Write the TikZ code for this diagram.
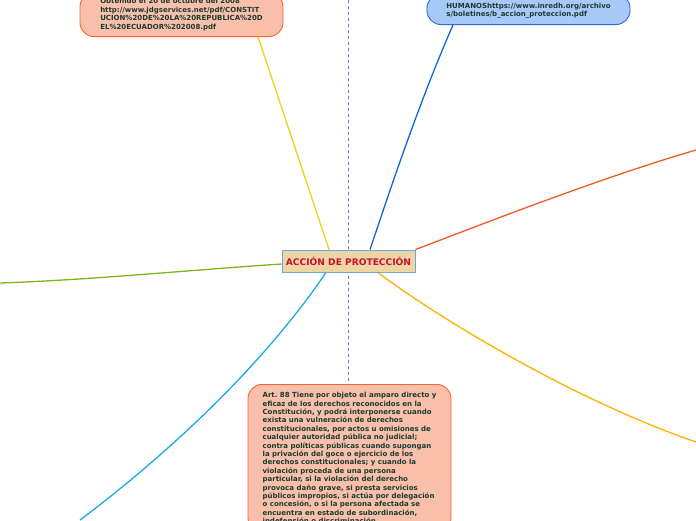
\documentclass[tikz,border=0pt]{standalone}
\usepackage{fontspec}
\setmainfont{DejaVu Sans}
\usetikzlibrary{positioning,shadows,backgrounds}
\definecolor{notefill}{HTML}{F9BFAB}
\definecolor{notedraw}{HTML}{F26535}
\definecolor{webfill}{HTML}{A8C8F8}
\definecolor{webdraw}{HTML}{2A6ED8}
\definecolor{notetext}{HTML}{173D2E}
\definecolor{mainfill}{HTML}{EED5A6}
\definecolor{maindraw}{HTML}{6FA9D2}
\definecolor{maintext}{HTML}{C8102E}
\definecolor{axis}{HTML}{5B7BF0}
\tikzset{
  note/.style={
    rectangle,
    rounded corners=14pt,
    draw=notedraw,
    fill=notefill,
    line width=0.9pt,
    text=notetext,
    font=\bfseries\fontsize{7}{8.4}\selectfont,
    align=left,
    minimum width=203pt,
    inner xsep=14pt,
    inner ysep=7pt
  },
  webnote/.style={note, draw=webdraw, fill=webfill},
  central/.style={
    rectangle,
    draw=maindraw,
    fill=mainfill,
    line width=0.9pt,
    text=maintext,
    font=\bfseries\fontsize{9.1}{10}\selectfont,
    minimum width=133pt,
    minimum height=22pt,
    inner sep=2pt,
    drop shadow={shadow xshift=1pt,shadow yshift=-1pt,fill=maindraw!60}
  },
  branch/.style={line width=1.3pt}
}

\begin{document}
\begin{tikzpicture}[x=1pt,y=-1pt]
\useasboundingbox (0,0) rectangle (696,520);
\clip (0,0) rectangle (696,520);

\node[central] (accion) at (348.5,261) {ACCIÓN DE PROTECCIÓN};

\node[note,anchor=south,inner ysep=6pt] (constitucion) at (181.5,37)
  {Obtenido el 20 de octubre del 2008\\
   http://www.jdgservices.net/pdf/CONSTIT\\
   UCION\%20DE\%20LA\%20REPUBLICA\%20D\\
   EL\%20ECUADOR\%202008.pdf};

\node[webnote,anchor=south,inner ysep=6pt] (inredh) at (528.5,25)
  {\mbox{}\\
   HUMANOShttps://www.inredh.org/archivo\\
   s/boletines/b\_accion\_proteccion.pdf};

\node[note,anchor=north,inner ysep=8pt] (art88) at (349.5,384)
  {Art.\ 88 Tiene por objeto el amparo directo y\\
   eficaz de los derechos reconocidos en la\\
   Constitución, y podrá interponerse cuando\\
   exista una vulneración de derechos\\
   constitucionales, por actos u omisiones de\\
   cualquier autoridad pública no judicial;\\
   contra políticas públicas cuando supongan\\
   la privación del goce o ejercicio de los\\
   derechos constitucionales; y cuando la\\
   violación proceda de una persona\\
   particular, si la violación del derecho\\
   provoca daño grave, si presta servicios\\
   públicos impropios, si actúa por delegación\\
   o concesión, o si la persona afectada se\\
   encuentra en estado de subordinación,\\
   indefensión o discriminación.};

\coordinate (axistop) at (348,0);
\coordinate (endleft) at (0,283);
\coordinate (endright) at (696,150);
\coordinate (endlowright) at (696,442);
\coordinate (endlowleft) at (80,520);

\begin{pgfonlayer}{background}
\draw[axis,dashed,line width=0.7pt] (axistop) -- (art88.north -| axistop);
\draw[branch,draw={rgb,255:red,232;green,210;blue,28}]
  ([xshift=-19.5pt]accion.north) -- ([xshift=76.5pt]constitucion.south);
\draw[branch,draw={rgb,255:red,21;green,101;blue,216}]
  ([xshift=21.5pt]accion.north) .. controls (390,190) and (420,100) .. ([xshift=-75.5pt]inredh.south);
\draw[branch,draw={rgb,255:red,240;green,90;blue,40}]
  (accion.north east) .. controls (480,225) and (600,178) .. (endright);
\draw[branch,draw={rgb,255:red,255;green,176;blue,0}]
  ([xshift=29.5pt]accion.south) .. controls (420,305) and (560,395) .. (endlowright);
\draw[branch,draw={rgb,255:red,124;green,181;blue,24}]
  ([yshift=-3pt]accion.west) .. controls (190,270) and (90,280) .. (endleft);
\draw[branch,draw={rgb,255:red,30;green,167;blue,232}]
  ([xshift=-22.5pt]accion.south) .. controls (260,370) and (160,460) .. (endlowleft);
\end{pgfonlayer}
\end{tikzpicture}
\end{document}
